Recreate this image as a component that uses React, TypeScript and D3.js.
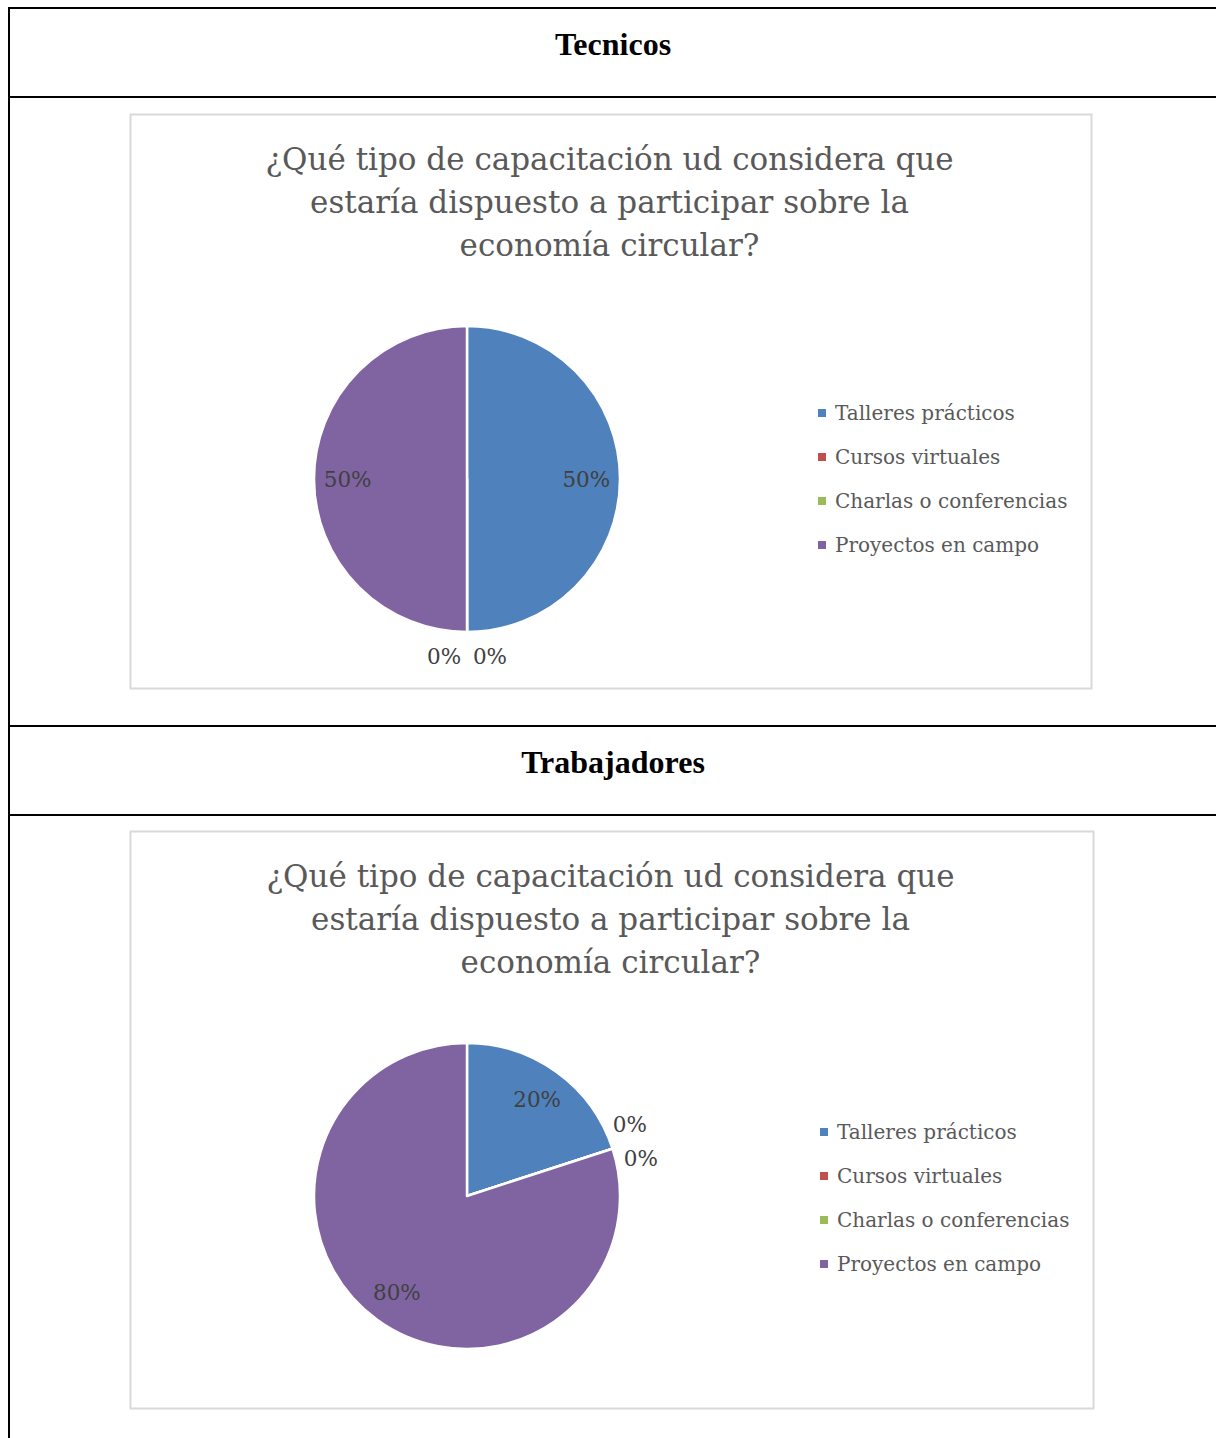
import React, { useEffect, useRef } from 'react';
import * as d3 from 'd3';

// Data
const categories = ['Talleres prácticos', 'Cursos virtuales', 'Charlas o conferencias', 'Proyectos en campo'];
const colors = ['#4F81BD', '#C0504D', '#9BBB59', '#8064A2'];
const tecnicosValues = [50, 0, 0, 50];
const trabajadoresValues = [20, 0, 0, 80];
const titleLines = ['¿Qué tipo de capacitación ud considera que', 'estaría dispuesto a participar sobre la', 'economía circular?'];
const sections = ['Tecnicos', 'Trabajadores'];

const FONT = '"DejaVu Serif", serif';

const App = () => {
  const svgRef = useRef<SVGSVGElement>(null);

  useEffect(() => {
    if (!svgRef.current) return;
    const svg = d3.select(svgRef.current);
    svg.selectAll('*').remove();

    const W = 1216;
    const H = 1438;
    svg.attr('width', W).attr('height', H);

    // table lines
    const table = svg.append('g').attr('stroke', '#000').attr('stroke-width', 2);
    table.append('line').attr('x1', 9).attr('x2', 9).attr('y1', 7).attr('y2', H);
    [8, 97, 726, 815].forEach(y => {
      table.append('line').attr('x1', 8).attr('x2', W).attr('y1', y).attr('y2', y);
    });

    const headerY = [55, 773];
    sections.forEach((s, i) => {
      svg.append('text')
        .attr('x', 613).attr('y', headerY[i])
        .attr('text-anchor', 'middle')
        .style('font-family', '"Liberation Serif", "Times New Roman", serif')
        .style('font-weight', 'bold')
        .style('font-size', '32px')
        .attr('fill', '#000')
        .text(s);
    });

    const charts = [
      { values: tecnicosValues, box: [130, 114, 961, 574], spread: 23, legendDx: 0, legendDy: 0 },
      { values: trabajadoresValues, box: [130, 831, 963, 577], spread: 18, legendDx: 2, legendDy: 2 },
    ];

    charts.forEach(c => {
      const [bx, by, bw, bh] = c.box;
      const g = svg.append('g').attr('transform', `translate(${bx},${by})`);

      g.append('rect')
        .attr('x', 0.5).attr('y', 0.5)
        .attr('width', bw).attr('height', bh)
        .attr('fill', '#fff')
        .attr('stroke', '#D9D9D9')
        .attr('stroke-width', 2);

      titleLines.forEach((t, i) => {
        g.append('text')
          .attr('x', bw / 2 - 1)
          .attr('y', 56 + i * 43)
          .attr('text-anchor', 'middle')
          .style('font-family', FONT)
          .style('font-size', '31px')
          .attr('fill', '#595959')
          .text(t);
      });

      const cx = 337;
      const cy = 365;
      const r = 153;
      const pie = d3.pie<number>().sort(null).value(d => d);
      const arcs = pie(c.values);
      const arc = d3.arc<d3.PieArcDatum<number>>().innerRadius(0).outerRadius(r);
      const labelArc = d3.arc<d3.PieArcDatum<number>>().innerRadius(r * 0.78).outerRadius(r * 0.78);

      const pg = g.append('g').attr('transform', `translate(${cx},${cy})`);
      pg.selectAll('path')
        .data(arcs)
        .enter()
        .append('path')
        .attr('d', arc)
        .attr('fill', (d, i) => colors[i])
        .attr('stroke', '#fff')
        .attr('stroke-width', 2.5)
        .attr('stroke-linejoin', 'round');

      let zeroIdx = 0;
      arcs.forEach((d) => {
        let x: number;
        let y: number;
        if (d.value === 0) {
          const a = d.startAngle;
          const rr = r + 24;
          const off = (zeroIdx === 0 ? -1 : 1) * c.spread;
          zeroIdx++;
          x = Math.sin(a) * rr - Math.cos(a) * off;
          y = -Math.cos(a) * rr - Math.sin(a) * off;
        } else {
          [x, y] = labelArc.centroid(d);
        }
        pg.append('text')
          .attr('x', x).attr('y', y)
          .attr('text-anchor', 'middle')
          .attr('dy', '0.35em')
          .style('font-family', FONT)
          .style('font-size', '21.5px')
          .attr('fill', '#404040')
          .text(`${d.value}%`);
      });

      const legend = g.append('g').attr('transform', `translate(${688 + c.legendDx},${299 + c.legendDy})`);
      categories.forEach((cat, i) => {
        const row = legend.append('g').attr('transform', `translate(0,${i * 44})`);
        row.append('rect')
          .attr('x', 0).attr('y', -4)
          .attr('width', 8).attr('height', 8)
          .attr('fill', colors[i]);
        row.append('text')
          .attr('x', 17).attr('y', 0)
          .attr('dy', '0.35em')
          .style('font-family', FONT)
          .style('font-size', '20px')
          .attr('fill', '#595959')
          .text(cat);
      });
    });
  }, []);

  return (
    <svg ref={svgRef} style={{ position: 'absolute', left: 0, top: 0, background: '#fff' }}></svg>
  );
};

export default App;
